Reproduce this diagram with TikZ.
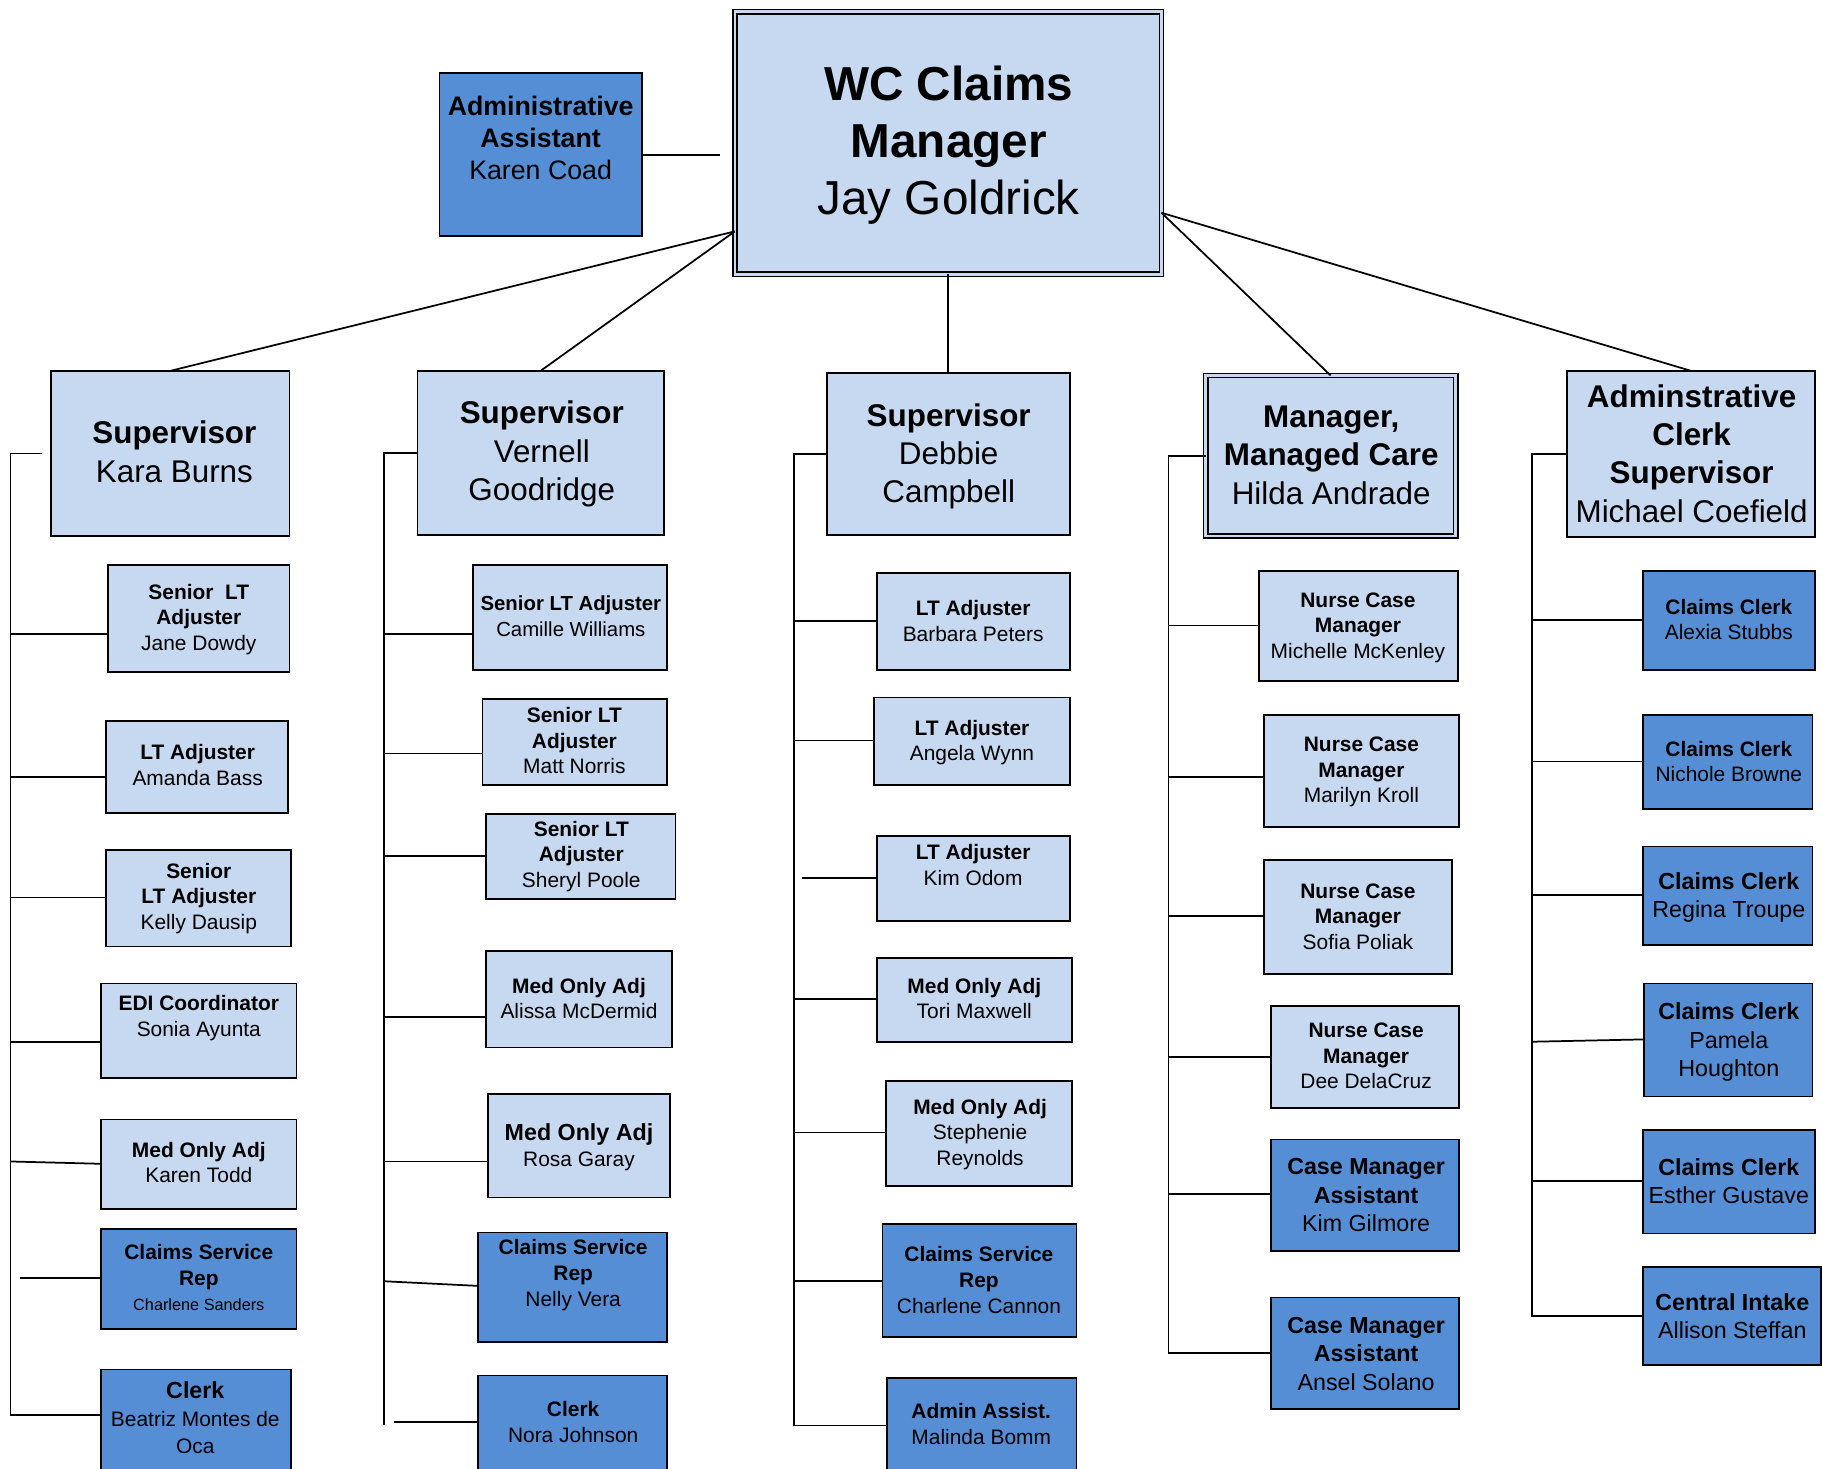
\documentclass[tikz,border=0pt]{standalone}
\usepackage{fontspec}
\setmainfont{Liberation Sans}
\usetikzlibrary{calc}

\definecolor{paleblue}{HTML}{C6D9F0}
\definecolor{midblue}{HTML}{558ED5}

% one line of text, with a strut so every line takes the same height
\newcommand\ttl[1]{\strut\textbf{#1}}
\newcommand\nme[1]{\strut #1}

% box given by its corners: style, name, x1, y1, x2, y2
\newcommand\rbox[6]{%
  \pgfmathsetmacro\rbX{(#3+#5)/2}%
  \pgfmathsetmacro\rbY{(#4+#6)/2}%
  \pgfmathsetmacro\rbW{#5-#3}%
  \pgfmathsetmacro\rbH{#6-#4}%
  \node[#1, minimum width=\rbW pt, minimum height=\rbH pt] (#2) at (\rbX,\rbY) {};}

\tikzset{
  box/.style={draw=black, line width=1.5pt, inner sep=0pt, outer sep=0pt},
  pbox/.style={box, fill=paleblue},
  dbox/.style={box, fill=midblue},
  dblbox/.style={draw=black, line width=1.4pt, double=paleblue, double distance=2.2pt,
                 fill=paleblue, inner sep=0pt, outer sep=0pt},
  wire/.style={line width=1.5pt, draw=black},
  txt/.style={align=center, inner sep=0pt, text=black},
  t18/.style={txt, font=\fontsize{18}{22}\selectfont},
  t20/.style={txt, font=\fontsize{20}{24.5}\selectfont},
  t27/.style={txt, font=\fontsize{27}{33}\selectfont},
}

\begin{document}
\begin{tikzpicture}[x=1pt,y=-1pt]
\fill[white] (0,0) rectangle (1568,1263);
\useasboundingbox (0,0) rectangle (1568,1263);
\clip (0,0) rectangle (1568,1263);

% ---------- boxes ----------
\rbox{dblbox}{main}{632}{10}{999}{236}
\rbox{dbox}{admin}{378}{63}{552}{203}

\rbox{pbox}{kara}{44}{319}{249}{461}
\rbox{pbox}{vernell}{359}{319}{571}{460}
\rbox{pbox}{debbie}{711}{321}{920}{460}
\rbox{dblbox}{hilda}{1037}{323}{1252}{461}
\rbox{pbox}{michael}{1348}{319}{1561}{462}

% first column
\rbox{pbox}{jane}{93}{486}{249}{578}
\rbox{pbox}{amanda}{91}{620}{248}{699}
\rbox{pbox}{kelly}{91}{731}{250}{814}
\rbox{pbox}{sonia}{87}{846}{255}{927}
\rbox{pbox}{karent}{87}{963}{255}{1040}
\rbox{dbox}{charlenes}{87}{1057}{255}{1143}
\rbox{dbox}{beatriz}{87}{1178}{250}{1300}

% second column
\rbox{pbox}{camille}{407}{486}{574}{576}
\rbox{pbox}{matt}{415}{601}{574}{675}
\rbox{pbox}{sheryl}{418}{700}{581}{773}
\rbox{pbox}{alissa}{418}{818}{578}{901}
\rbox{pbox}{rosa}{420}{941}{576}{1030}
\rbox{dbox}{nelly}{411}{1060}{574}{1154}
\rbox{dbox}{nora}{411}{1183}{574}{1300}

% third column
\rbox{pbox}{barbara}{754}{493}{920}{576}
\rbox{pbox}{angela}{752}{600}{920}{675}
\rbox{pbox}{kimo}{754}{719}{920}{792}
\rbox{pbox}{tori}{754}{824}{922}{896}
\rbox{pbox}{steph}{762}{930}{922}{1020}
\rbox{dbox}{charlenec}{759}{1053}{926}{1150}
\rbox{dbox}{malinda}{763}{1185}{926}{1300}

% fourth column
\rbox{pbox}{michelle}{1083}{491}{1254}{586}
\rbox{pbox}{marilyn}{1087}{615}{1255}{711}
\rbox{pbox}{sofia}{1087}{740}{1249}{838}
\rbox{pbox}{dee}{1093}{865}{1255}{953}
\rbox{dbox}{kimg}{1093}{980}{1255}{1076}
\rbox{dbox}{ansel}{1093}{1116}{1255}{1212}

% fifth column
\rbox{dbox}{alexia}{1413}{491}{1561}{576}
\rbox{dbox}{nichole}{1413}{615}{1559}{696}
\rbox{dbox}{regina}{1413}{728}{1559}{813}
\rbox{dbox}{pamela}{1414}{846}{1559}{943}
\rbox{dbox}{esther}{1413}{972}{1561}{1061}
\rbox{dbox}{allison}{1413}{1090}{1566}{1174}

% ---------- connectors ----------
\coordinate (adminEnd) at (619,133);
\draw[wire] (admin.east) -- (adminEnd);

\coordinate (mainL) at (main.west |- 0,199);
\coordinate (mainR) at (main.east |- 0,183);
\draw[wire] (mainL) -- (kara.north);
\draw[wire] (mainL) -- (vernell.north);
\draw[wire] (main.south) -- (debbie.north);
\draw[wire] (mainR) -- (hilda.north);
\draw[wire] (mainR) -- (michael.north);

% first column
\draw[wire] ([xshift=-8pt]kara.west) -- (9,390) -- (9,1217) -- (beatriz.west |- 9,1217);
\foreach \yy/\nn in {545/jane,668/amanda,772/kelly,896/sonia}
  \draw[wire] (9,\yy) -- (\nn.west |- 9,\yy);
\draw[wire] (9,999) -- (karent.west |- 9,1001);
\coordinate (csStub) at (17,1099);
\draw[wire] (csStub) -- (charlenes.west |- csStub);

% second column
\coordinate (busTwoEnd) at (330,1226);
\draw[wire] (vernell.west) -- (vernell.west -| busTwoEnd) -- (busTwoEnd);
\foreach \yy/\nn in {545/camille,648/matt,736/sheryl,875/alissa,999/rosa}
  \draw[wire] (330,\yy) -- (\nn.west |- 330,\yy);
\draw[wire] (330,1102) -- (nelly.west |- 330,1106);
\coordinate (noraStub) at (339,1223);
\draw[wire] (noraStub) -- (nora.west |- noraStub);

% third column
\draw[wire] (debbie.west) -- (683,390.5) -- (683,1226) -- (malinda.west |- 683,1226);
\foreach \yy/\nn in {534/barbara,637/angela,859/tori,974/steph,1102/charlenec}
  \draw[wire] (683,\yy) -- (\nn.west |- 683,\yy);
\coordinate (kimStub) at (690,755);
\draw[wire] (kimStub) -- (kimo.west |- kimStub);

% fourth column
\draw[wire] (hilda.west) -- (1005,392) -- (1005,1164) -- (ansel.west |- 1005,1164);
\foreach \yy/\nn in {538/michelle,668/marilyn,788/sofia,909/dee,1027/kimg}
  \draw[wire] (1005,\yy) -- (\nn.west |- 1005,\yy);

% fifth column
\draw[wire] (michael.west) -- (1318,390.5) -- (1318,1132) -- (allison.west |- 1318,1132);
\foreach \yy/\nn in {533/alexia,655/nichole,770/regina,1016/esther}
  \draw[wire] (1318,\yy) -- (\nn.west |- 1318,\yy);
\draw[wire] (1318,896) -- (pamela.west |- 1318,894);

% ---------- texts ----------
\node[txt, font=\fontsize{41}{49}\selectfont] (main-t) at (816,126)
  {\ttl{WC Claims}\\\ttl{Manager}\\\nme{Jay Goldrick}};
\node[txt, font=\fontsize{23}{27.5}\selectfont] (admin-t) at (465,121.5)
  {\ttl{Administrative}\\\ttl{Assistant}\\\nme{Karen Coad}};

\node[t27] (kara-t) at (150,391.5) {\ttl{Supervisor}\\\nme{Kara Burns}};
\node[t27] (vernell-t) at (466,391) {\ttl{Supervisor}\\\nme{Vernell}\\\nme{Goodridge}};
\node[t27] (debbie-t) at (816,393) {\ttl{Supervisor}\\\nme{Debbie}\\\nme{Campbell}};
\node[t27] (hilda-t) at (1145,394) {\ttl{Manager,}\\\ttl{Managed Care}\\\nme{Hilda Andrade}};
\node[t27] (michael-t) at (1455,393)
  {\ttl{Adminstrative}\\\ttl{Clerk}\\\ttl{Supervisor}\\\nme{Michael Coefield}};

% first column
\node[t18] (jane-t) at (171,533) {\ttl{Senior~~LT}\\\ttl{Adjuster}\\\nme{Jane Dowdy}};
\node[t18] (amanda-t) at (170,660) {\ttl{LT Adjuster}\\\nme{Amanda Bass}};
\node[t18] (kelly-t) at (171,773) {\ttl{Senior}\\\ttl{LT Adjuster}\\\nme{Kelly Dausip}};
\node[t18] (sonia-t) at (171,876) {\ttl{EDI Coordinator}\\\nme{Sonia Ayunta}};
\node[t18] (karent-t) at (171,1002) {\ttl{Med Only Adj}\\\nme{Karen Todd}};
\node[t18] (charlenes-t) at (171,1101)
  {\ttl{Claims Service}\\\ttl{Rep}\\{\fontsize{14}{22}\selectfont\nme{Charlene Sanders}}};
\node[txt, font=\fontsize{18}{23.5}\selectfont] (beatriz-t) at (168,1222)
  {{\fontsize{20}{23.5}\selectfont\ttl{Clerk}}\\\nme{Beatriz Montes de}\\\nme{Oca}};

% second column
\node[txt, font=\fontsize{17.5}{22}\selectfont] (camille-t) at (491,532)
  {\ttl{Senior LT Adjuster}\\\nme{Camille Williams}};
\node[t18] (matt-t) at (494,639) {\ttl{Senior LT}\\\ttl{Adjuster}\\\nme{Matt Norris}};
\node[t18] (sheryl-t) at (500,737) {\ttl{Senior LT}\\\ttl{Adjuster}\\\nme{Sheryl Poole}};
\node[t18] (alissa-t) at (498,861) {\ttl{Med Only Adj}\\\nme{Alissa McDermid}};
\node[txt, font=\fontsize{18}{23}\selectfont] (rosa-t) at (498,987.5)
  {{\fontsize{20}{23}\selectfont\ttl{Med Only Adj}}\\\nme{Rosa Garay}};
\node[t18] (nelly-t) at (493,1097) {\ttl{Claims Service}\\\ttl{Rep}\\\nme{Nelly Vera}};
\node[t18] (nora-t) at (493,1225) {\ttl{Clerk}\\\nme{Nora Johnson}};

% third column
\node[t18] (barbara-t) at (837,536) {\ttl{LT Adjuster}\\\nme{Barbara Peters}};
\node[t18] (angela-t) at (836,639) {\ttl{LT Adjuster}\\\nme{Angela Wynn}};
\node[t18] (kimo-t) at (837,746) {\ttl{LT Adjuster}\\\nme{Kim Odom}};
\node[t18] (tori-t) at (838,861) {\ttl{Med Only Adj}\\\nme{Tori Maxwell}};
\node[t18] (steph-t) at (843,976) {\ttl{Med Only Adj}\\\nme{Stephenie}\\\nme{Reynolds}};
\node[t18] (charlenec-t) at (842,1103) {\ttl{Claims Service}\\\ttl{Rep}\\\nme{Charlene Cannon}};
\node[t18] (malinda-t) at (844,1227) {\ttl{Admin Assist.}\\\nme{Malinda Bomm}};

% fourth column
\node[t18] (michelle-t) at (1168,540) {\ttl{Nurse Case}\\\ttl{Manager}\\\nme{Michelle McKenley}};
\node[t18] (marilyn-t) at (1171,664) {\ttl{Nurse Case}\\\ttl{Manager}\\\nme{Marilyn Kroll}};
\node[t18] (sofia-t) at (1168,790) {\ttl{Nurse Case}\\\ttl{Manager}\\\nme{Sofia Poliak}};
\node[t18] (dee-t) at (1175,910) {\ttl{Nurse Case}\\\ttl{Manager}\\\nme{Dee DelaCruz}};
\node[t20] (kimg-t) at (1175,1030) {\ttl{Case Manager}\\\ttl{Assistant}\\\nme{Kim Gilmore}};
\node[t20] (ansel-t) at (1175,1166.5) {\ttl{Case Manager}\\\ttl{Assistant}\\\nme{Ansel Solano}};

% fifth column
\node[t18] (alexia-t) at (1487,535) {\ttl{Claims Clerk}\\\nme{Alexia Stubbs}};
\node[t18] (nichole-t) at (1487,657) {\ttl{Claims Clerk}\\\nme{Nichole Browne}};
\node[t20] (regina-t) at (1487,772.4) {\ttl{Claims Clerk}\\\nme{Regina Troupe}};
\node[t20] (pamela-t) at (1487,896.8) {\ttl{Claims Clerk}\\\nme{Pamela}\\\nme{Houghton}};
\node[t20] (esther-t) at (1487,1018.4) {\ttl{Claims Clerk}\\\nme{Esther Gustave}};
\node[t20] (allison-t) at (1490,1134.4) {\ttl{Central Intake}\\\nme{Allison Steffan}};
\end{tikzpicture}
\end{document}
